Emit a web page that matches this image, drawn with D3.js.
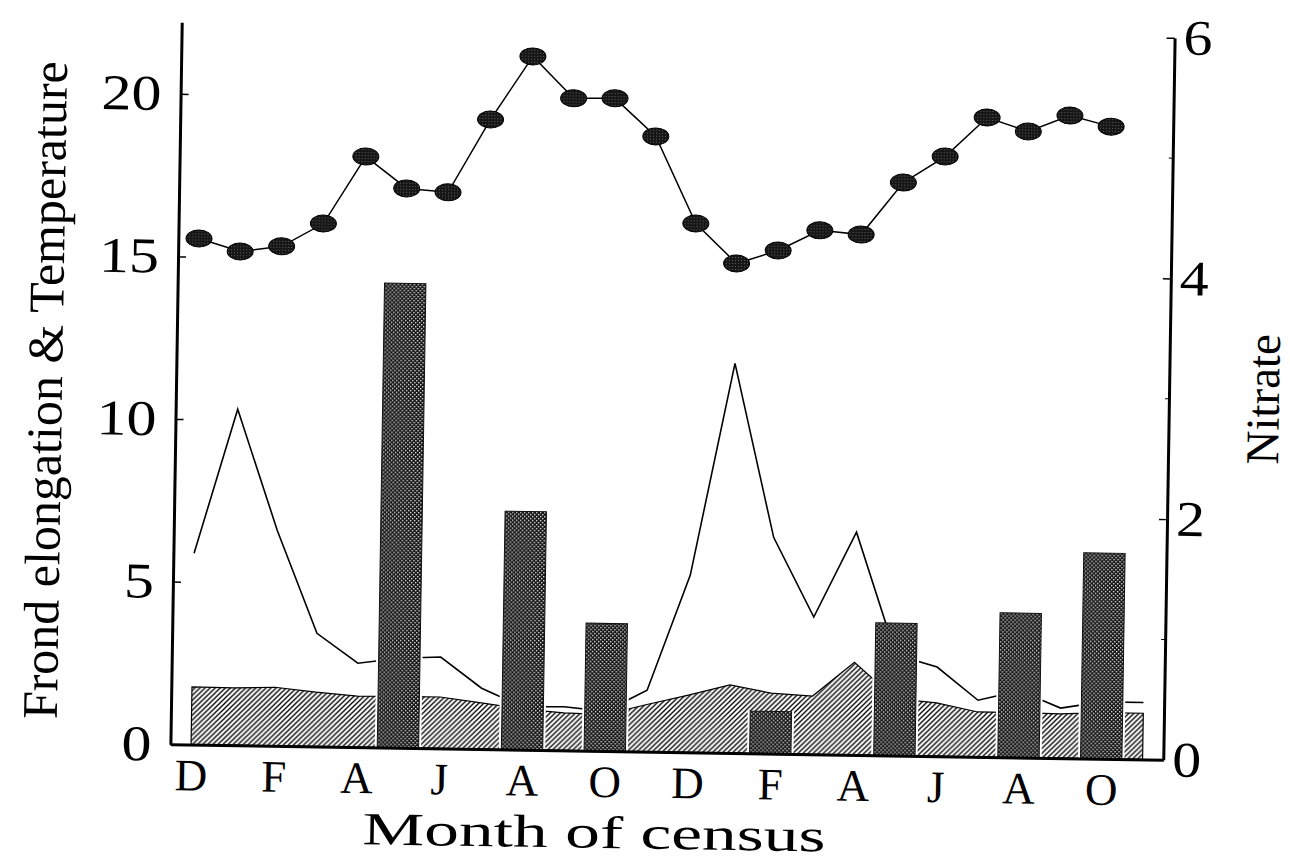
<html>
<head>
<meta charset="utf-8">
<title>Frond elongation, temperature and nitrate</title>
<script src="https://d3js.org/d3.v7.min.js"></script>
<style>
  body { margin: 0; background: #fff; }
  text { font-family: "Liberation Serif", "Times New Roman", serif; fill: #000; }
</style>
</head>
<body>
<svg id="chart" width="1290" height="860"></svg>
<script>
// months of census, Dec through Nov of the following year but one
const months = ["D","J","F","M","A","M","J","J","A","S","O","N",
                "D","J","F","M","A","M","J","J","A","S","O","N"];
const xTickIndex = [0, 2, 4, 6, 8, 10, 12, 14, 16, 18, 20, 22];

// temperature (dots), no reading for the last month
const temperature = [15.56, 15.18, 15.36, 16.08, 18.16, 17.20, 17.10, 19.36, 21.32, 20.05, 20.07, 18.92,
                     16.26, 15.05, 15.47, 16.11, 16.00, 17.62, 18.44, 19.66, 19.25, 19.76, 19.44];

// frond elongation (thin line)
const frond = [5.88, 10.33, 6.63, 3.48, 2.58, 2.75, 2.81, 1.87, 1.32, 1.34, 1.22, 1.89,
               5.45, 11.98, 6.65, 4.22, 6.85, 3.10, 2.74, 1.74, 2.05, 1.54, 1.75, 1.75];

// hatched series
const shaded = [1.77, 1.76, 1.80, 1.67, 1.57, 1.58, 1.58, 1.42, 1.25, 1.15, 1.12, 1.45,
                1.76, 2.09, 1.86, 1.79, 2.85, 1.75, 1.64, 1.38, 1.38, 1.36, 1.42, 1.42];

// nitrate (bars, right axis)
const nitrateMonths = [5, 8, 10, 14, 17, 20, 22];
const nitrate = [3.86, 1.98, 1.06, 0.35, 1.10, 1.20, 1.71];

const leftTicks = [0, 5, 10, 15, 20];
const rightTicks = [0, 2, 4, 6];
const rightMinor = [1, 3, 5];

const plot = {left: 176, right: 1169, top: 30, bottom: 752};

var x = d3.scaleLinear().domain([-0.5, 23.5]).range([plot.left, plot.right]);
var yL = d3.scaleLinear().domain([0, 22.2]).range([plot.bottom, plot.top]);
var yR = d3.scaleLinear().domain([0, 6]).range([plot.bottom, plot.top]);

var svg = d3.select("#chart");
var defs = svg.append("defs");

// diagonal hatching
var hatch = defs.append("pattern").attr("id", "hatch")
  .attr("patternUnits", "userSpaceOnUse").attr("width", 5).attr("height", 5);
hatch.append("rect").attr("width", 5).attr("height", 5).attr("fill", "#fff");
hatch.append("path").attr("d", "M0,5L5,0M-1,1L1,-1M4,6L6,4")
  .attr("stroke", "#000").attr("stroke-width", 1.3);

// dark checker stipple for bars
var checker = defs.append("pattern").attr("id", "checker")
  .attr("patternUnits", "userSpaceOnUse").attr("width", 4).attr("height", 4);
checker.append("rect").attr("width", 4).attr("height", 4).attr("fill", "#151515");
checker.append("rect").attr("width", 1.4).attr("height", 1.4).attr("fill", "#e0e0e0");
checker.append("rect").attr("x", 2).attr("y", 2).attr("width", 1.4).attr("height", 1.4).attr("fill", "#e0e0e0");

// speckle for temperature dots
var speckle = defs.append("pattern").attr("id", "speckle")
  .attr("patternUnits", "userSpaceOnUse").attr("width", 3).attr("height", 3);
speckle.append("rect").attr("width", 3).attr("height", 3).attr("fill", "#161616");
speckle.append("rect").attr("x", 1).attr("y", 1).attr("width", 0.8).attr("height", 0.8).attr("fill", "#8a8a8a");

// the printed figure sits slightly turned on the page
var g = svg.append("g").attr("transform", "rotate(0.9 672 391)");

// hatched area
g.append("path")
  .datum(shaded)
  .attr("fill", "url(#hatch)")
  .attr("stroke", "#000")
  .attr("stroke-width", 1.2)
  .attr("d", d3.area().x((d, i) => x(i)).y0(yL(0)).y1(d => yL(d)));

// frond elongation line
g.append("path")
  .datum(frond)
  .attr("fill", "none")
  .attr("stroke", "#000")
  .attr("stroke-width", 1.6)
  .attr("d", d3.line().x((d, i) => x(i)).y(d => yL(d)));

// nitrate bars with a white edge
var bw = x(1) - x(0);
var bars = g.selectAll(".bar").data(nitrate).join("g").attr("class", "bar");
bars.append("rect")
  .attr("x", (d, i) => x(nitrateMonths[i]) - bw / 2 - 2.5)
  .attr("y", d => yR(d))
  .attr("width", bw + 5)
  .attr("height", d => yR(0) - yR(d))
  .attr("fill", "#fff");
bars.append("rect")
  .attr("x", (d, i) => x(nitrateMonths[i]) - bw / 2)
  .attr("y", d => yR(d))
  .attr("width", bw)
  .attr("height", d => yR(0) - yR(d))
  .attr("fill", "url(#checker)")
  .attr("stroke", "#111")
  .attr("stroke-width", 1);

// temperature line and dots
g.append("path")
  .datum(temperature)
  .attr("fill", "none")
  .attr("stroke", "#000")
  .attr("stroke-width", 1.5)
  .attr("d", d3.line().x((d, i) => x(i)).y(d => yL(d)));
g.selectAll(".temp").data(temperature).join("ellipse")
  .attr("class", "temp")
  .attr("cx", (d, i) => x(i))
  .attr("cy", d => yL(d))
  .attr("rx", 13)
  .attr("ry", 8.5)
  .attr("fill", "url(#speckle)")
  .attr("stroke", "#000")
  .attr("stroke-width", 1);

// axes
var leftAxis = g.append("g")
  .attr("transform", "translate(" + plot.left + ",0)")
  .call(d3.axisLeft(yL).tickValues(leftTicks).tickFormat(d3.format("d"))
    .tickSizeInner(-8).tickSizeOuter(0).tickPadding(19));
var rightAxis = g.append("g")
  .attr("transform", "translate(" + plot.right + ",0)")
  .call(d3.axisRight(yR).tickValues(rightTicks).tickFormat(d3.format("d"))
    .tickSizeInner(-8).tickSizeOuter(0).tickPadding(9));
var bottomAxis = g.append("g")
  .attr("transform", "translate(0," + plot.bottom + ")")
  .call(d3.axisBottom(x).tickValues(xTickIndex).tickFormat(i => months[i]).tickSize(0).tickPadding(14));

[leftAxis, rightAxis, bottomAxis].forEach(function(a) {
  a.attr("font-family", null).attr("font-size", null);
  a.select(".domain").attr("stroke", "#000").attr("stroke-width", 3);
  a.selectAll(".tick line").attr("stroke", "#000").attr("stroke-width", 1.5);
});
leftAxis.selectAll("text").attr("font-size", 50)
  .attr("textLength", d => String(d).length * 30).attr("lengthAdjust", "spacingAndGlyphs");
rightAxis.selectAll("text").attr("font-size", 50)
  .attr("textLength", 29).attr("lengthAdjust", "spacingAndGlyphs");
bottomAxis.selectAll("text").attr("font-size", 45);

g.selectAll(".minor").data(rightMinor).join("line")
  .attr("class", "minor")
  .attr("x1", plot.right - 4).attr("x2", plot.right)
  .attr("y1", d => yR(d)).attr("y2", d => yR(d))
  .attr("stroke", "#000").attr("stroke-width", 1);

// titles
g.append("text")
  .attr("transform", "translate(62,400) rotate(-90)")
  .attr("text-anchor", "middle")
  .attr("font-size", 50)
  .text("Frond elongation & Temperature");
g.append("text")
  .attr("transform", "translate(1279,390) rotate(-90)")
  .attr("text-anchor", "middle")
  .attr("font-size", 47)
  .text("Nitrate");
g.append("text")
  .attr("x", 601)
  .attr("y", 849)
  .attr("text-anchor", "middle")
  .attr("font-size", 46)
  .attr("textLength", 463)
  .attr("lengthAdjust", "spacingAndGlyphs")
  .text("Month of census");
</script>
</body>
</html>
